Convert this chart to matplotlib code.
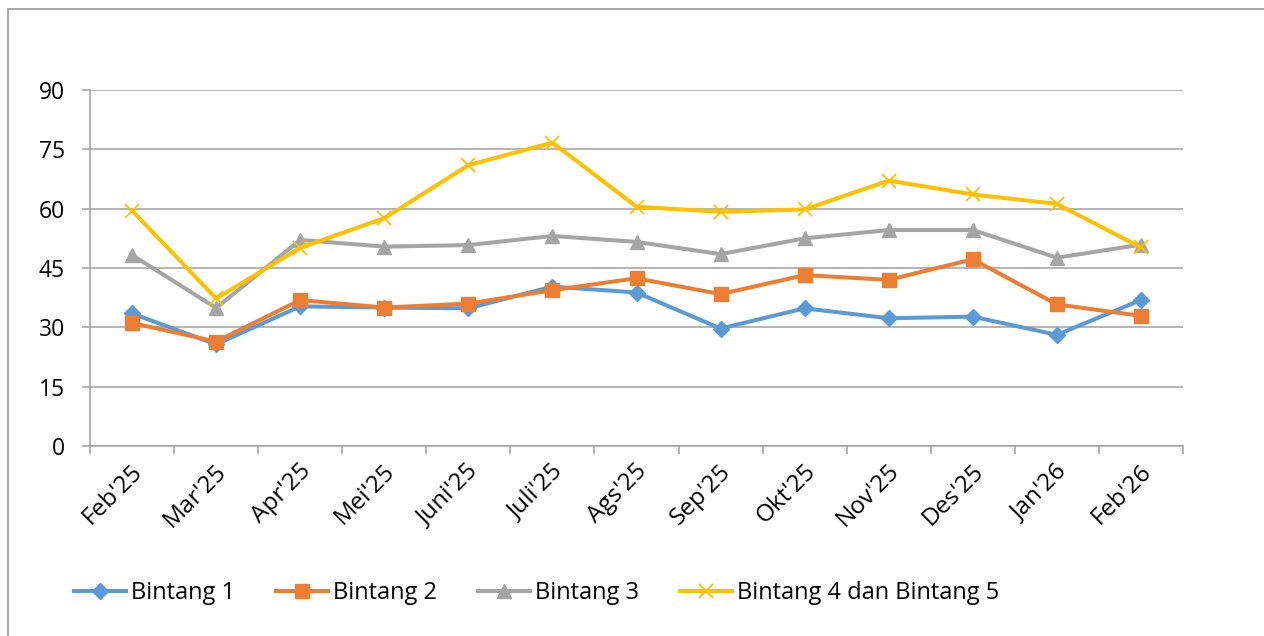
import matplotlib.pyplot as plt
from matplotlib.patches import Rectangle
import matplotlib.transforms as mtransforms

plt.rcParams['font.family'] = ['Open Sans', 'DejaVu Sans']

# --- data ---
bulan = ["Feb'25", "Mar'25", "Apr'25", "Mei'25", "Juni'25", "Juli'25", "Ags'25",
         "Sep'25", "Okt'25", "Nov'25", "Des'25", "Jan'26", "Feb'26"]
bintang1 = [33.5, 25.7, 35.3, 35.0, 34.8, 40.3, 38.8, 29.7, 34.8, 32.3, 32.7, 28.1, 36.9]
bintang2 = [31.1, 26.4, 36.9, 35.0, 36.0, 39.4, 42.4, 38.4, 43.2, 42.0, 47.2, 35.8, 32.9]
bintang3 = [48.3, 34.9, 52.1, 50.4, 50.8, 53.1, 51.6, 48.5, 52.5, 54.6, 54.6, 47.6, 50.9]
bintang45 = [59.5, 37.3, 50.1, 57.6, 71.0, 76.7, 60.5, 59.2, 59.8, 67.1, 63.6, 61.2, 50.2]
yticks = [0, 15, 30, 45, 60, 75, 90]

fig = plt.figure(figsize=(12.64, 6.36), dpi=100)
ax = fig.add_axes([90/1264, (636-446)/636, (1183-90)/1264, (446-90)/636])

# chart border
fig.patches.append(Rectangle((8/1264, -0.1), 1.2, (636-9)/636 + 0.1, transform=fig.transFigure,
                             fill=False, edgecolor='#9a9a9a', linewidth=1.2))

x = range(len(bulan))
ax.plot(x, bintang1, color='#5B9BD5', lw=2.9, marker='D', ms=8, label='Bintang 1')
ax.plot(x, bintang2, color='#ED7D31', lw=2.9, marker='s', ms=10, label='Bintang 2')
ax.plot(x, bintang3, color='#A5A5A5', lw=2.9, marker='^', ms=10, label='Bintang 3')
ax.plot(x, bintang45, color='#FFC000', lw=2.9, marker='x', ms=10, mew=1.3,
        label='Bintang 4 dan Bintang 5')

ax.set_xlim(-0.5, len(bulan) - 0.5)
ax.set_ylim(0, 90)
ax.set_yticks(yticks)
ax.grid(axis='y', color='#a0a0a0', lw=1.1)
ax.set_axisbelow(True)
for s in ['top', 'right']:
    ax.spines[s].set_visible(False)
for s in ['left', 'bottom']:
    ax.spines[s].set_color('#a0a0a0')
    ax.spines[s].set_linewidth(1.1)

ax.tick_params(axis='y', length=6, color='#a0a0a0', width=1.1, pad=12, labelsize=16.5)
ax.set_xticks([i - 0.5 for i in range(len(bulan) + 1)])
ax.set_xticklabels([])
ax.tick_params(axis='x', length=6, color='#a0a0a0', width=1.1, direction='out')

# category labels rotated 45, ending near the category
off = mtransforms.ScaledTranslation(7/100, -22/100, fig.dpi_scale_trans)
for i, lab in enumerate(bulan):
    ax.text(i, 0, lab, rotation=45, rotation_mode='anchor', ha='right', va='center',
            fontsize=17.5, transform=ax.get_xaxis_transform() + off)

fig.legend(loc='center left', bbox_to_anchor=(74/1264, 1 - 593/636), ncol=4,
           frameon=False, fontsize=17, handlelength=2.2, handletextpad=0.2,
           columnspacing=1.75, borderpad=0, borderaxespad=0)

plt.savefig('out.png', dpi=100)
